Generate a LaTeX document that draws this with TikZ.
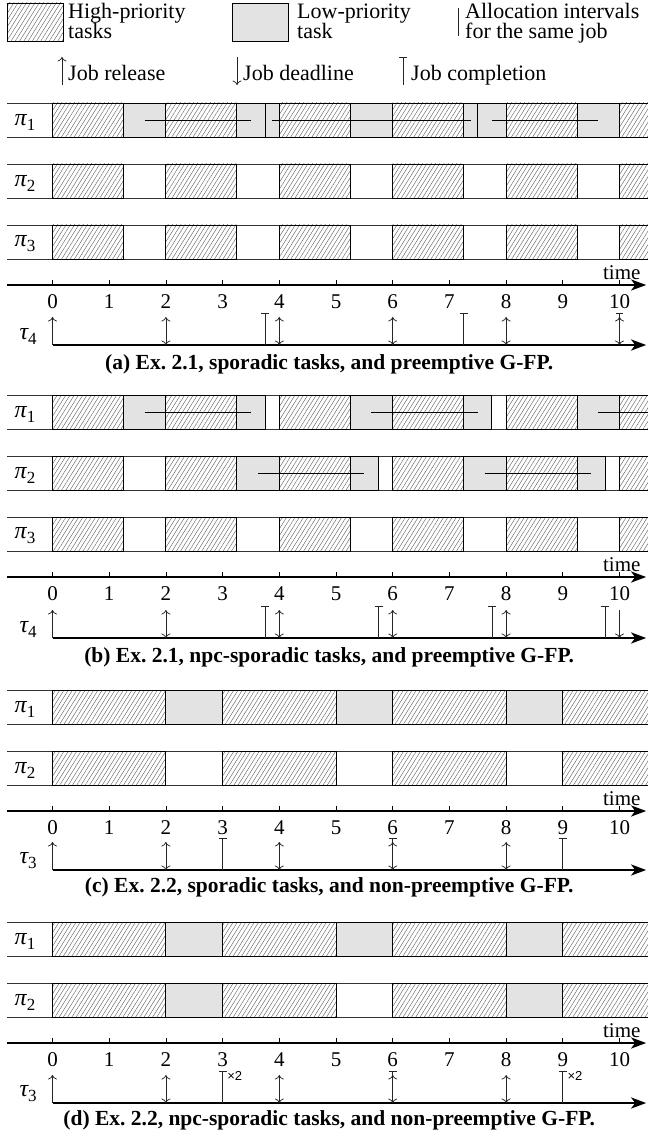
\documentclass[tikz,border=0pt]{standalone}
\usepackage{fontspec}
\setmainfont{Liberation Serif}
\newfontfamily\sansfam{Liberation Sans}
\usetikzlibrary{arrows.meta,patterns.meta}
\tikzset{
  hatchst/.style={pattern={Lines[angle=58,distance=3.6pt,line width=0.45pt]},pattern color=black!60},
  boxedge/.style={draw=black,line width=0.9pt},
  grayst/.style={fill=black!11},
  rowline/.style={draw=black!80,line width=0.8pt},
  jobln/.style={draw=black,line width=0.75pt},
  axisst/.style={line width=2.2pt,-{Stealth[length=15pt,width=11pt,inset=4pt]}},
  tickst/.style={line width=0.7pt},
  evt/.style={line width=0.75pt,draw=black!85},
  cmtip/.tip={Computer Modern Rightarrow[length=4.5pt,width=9pt]},
  relst/.style={evt,-{cmtip}},
  bothst/.style={evt,{cmtip}-{cmtip}},
  lbl/.style={inner sep=0pt,font=\fontsize{21}{22}\selectfont},
  lgd/.style={inner sep=0pt,anchor=base west,font=\fontsize{22}{23}\selectfont},
  capst/.style={inner sep=0pt,font=\fontsize{21.5}{22}\selectfont\bfseries},
  timesx/.style={inner sep=0pt,anchor=west,font=\sansfam\fontsize{13}{14}\selectfont},
}
\newcommand\symb[2]{{\fontsize{24}{24}\selectfont\itshape #1}\raisebox{-5pt}{\fontsize{17}{17}\selectfont #2}}
\newcommand\procrow[3]{%
  \draw[rowline] (-0.8,#1) -- (10.5,#1) (-0.8,{#1+34}) -- (10.5,{#1+34});
  \node[lbl] (#2) at (-0.485,{#1+19}) {#3};}
\newcommand\hatchrect[3]{\draw[hatchst,boxedge] (#2,#1) rectangle (#3,{#1+34});}
\newcommand\grayrect[3]{\draw[grayst,boxedge] (#2,#1) rectangle (#3,{#1+34});}
\newcommand\openrect[3]{\fill[hatchst] (#2,#1) rectangle (#3,{#1+34});
  \draw[boxedge] (#3,#1) -- (#2,#1) -- (#2,{#1+34}) -- (#3,{#1+34});}
\newcommand\jobseg[3]{\draw[jobln] (#2,{#1+17}) -- (#3,{#1+17});}
\newcommand\timeaxis[2]{%
  \draw[axisst] (-0.8,#1) -- (10.47,#1);
  \foreach \t in {0,...,10}{\draw[tickst] (\t,#1) -- (\t,{#1-5});
     \node[lbl] (#2n\t) at (\t,{#1+17}) {\t};}
  \node[lbl] (#2time) at (10.04,{#1-12}) {time};}
\newcommand\taxis[3]{%
  \draw[axisst] (0,#1) -- (10.47,#1);
  \node[lbl] (#2) at (-0.43,{#1-9}) {#3};}
\newcommand\relev[2]{\draw[relst] (#2,#1) -- (#2,{#1-28});}
\newcommand\bothev[2]{\draw[bothst] (#2,#1) -- (#2,{#1-28});}
\newcommand\dlev[2]{\draw[relst] (#2,{#1-28}) -- (#2,#1);}
\newcommand\complev[2]{\draw[evt] (#2,#1) -- (#2,{#1-32}) ({#2-0.07},{#1-32}) -- ({#2+0.07},{#1-32});}
\begin{document}
\begin{tikzpicture}[x=1pt,y=-1pt]
\useasboundingbox (0,0) rectangle (660,1139);
% ---------- legend ----------
\draw[hatchst,boxedge] (7,3) rectangle (63,41);
\node[lgd] (lgH) at (68,18.5) {High-priority};
\node[lgd] (lgH2) at (68,38.5) {tasks};
\draw[grayst,boxedge] (232,3) rectangle (288,41);
\node[lgd] (lgL) at (297,18.5) {Low-priority};
\node[lgd] (lgL2) at (297,38.5) {task};
\draw[evt] (458,8) -- (458,36);
\node[lgd] (lgA) at (465,18.5) {Allocation intervals};
\node[lgd] (lgA2) at (465,38.5) {for the same job};
\draw[relst] (62,85) -- (62,57);
\node[lgd] (lgR) at (68,81) {Job release};
\draw[relst] (237,57) -- (237,85);
\node[lgd] (lgD) at (243,81) {Job deadline};
\draw[evt] (403,85) -- (403,57) (399,57) -- (407,57);
\node[lgd] (lgC) at (411,81) {Job completion};
% ---------- timelines ----------
\begin{scope}[x=56.7pt,xshift=52.5pt]
% ===== (a) =====
\procrow{103}{p1a}{\symb{π}{1}}
\procrow{164}{p2a}{\symb{π}{2}}
\procrow{225}{p3a}{\symb{π}{3}}
\foreach \a/\b in {0/1.25,2/3.25,4/5.25,6/7.25,8/9.25}{\hatchrect{103}{\a}{\b}\hatchrect{164}{\a}{\b}\hatchrect{225}{\a}{\b}}
\openrect{103}{10}{10.5}\openrect{164}{10}{10.5}\openrect{225}{10}{10.5}
\foreach \a/\b in {1.25/2,3.25/3.75,3.75/4,5.25/6,7.25/7.5,7.5/8,9.25/10}{\grayrect{103}{\a}{\b}}
\jobseg{103}{1.625}{3.5}\jobseg{103}{3.875}{7.375}\jobseg{103}{7.75}{9.625}
\timeaxis{285}{ta}
\taxis{345}{tauA}{\symb{τ}{4}}
\relev{345}{0}
\foreach \t in {2,4,6,8,10}{\bothev{345}{\t}}
\foreach \t in {3.75,7.25,10}{\complev{345}{\t}}
\node[capst] (capa) at (4.88,364) {(a) Ex.\ 2.1, sporadic tasks, and preemptive G-FP.};
% ===== (b) =====
\procrow{395}{p1b}{\symb{π}{1}}
\procrow{456}{p2b}{\symb{π}{2}}
\procrow{517}{p3b}{\symb{π}{3}}
\foreach \a/\b in {0/1.25,2/3.25,4/5.25,6/7.25,8/9.25}{\hatchrect{395}{\a}{\b}\hatchrect{456}{\a}{\b}\hatchrect{517}{\a}{\b}}
\openrect{395}{10}{10.5}\openrect{456}{10}{10.5}\openrect{517}{10}{10.5}
\foreach \a/\b in {1.25/2,3.25/3.75,5.25/6,7.25/7.75,9.25/10}{\grayrect{395}{\a}{\b}}
\foreach \a/\b in {3.25/4,5.25/5.75,7.25/8,9.25/9.75}{\grayrect{456}{\a}{\b}}
\jobseg{395}{1.625}{3.5}\jobseg{395}{5.625}{7.5}\jobseg{395}{9.625}{10.5}
\jobseg{456}{3.625}{5.5}\jobseg{456}{7.625}{9.5}
\timeaxis{577}{tb}
\taxis{638}{tauB}{\symb{τ}{4}}
\relev{638}{0}
\foreach \t in {2,4,6,8}{\bothev{638}{\t}}
\dlev{638}{10}
\foreach \t in {3.75,5.75,7.75,9.75}{\complev{638}{\t}}
\node[capst] (capb) at (4.88,657) {(b) Ex.\ 2.1, npc-sporadic tasks, and preemptive G-FP.};
% ===== (c) =====
\procrow{690}{p1c}{\symb{π}{1}}
\procrow{751}{p2c}{\symb{π}{2}}
\foreach \a/\b in {0/2,3/5,6/8}{\hatchrect{690}{\a}{\b}\hatchrect{751}{\a}{\b}}
\openrect{690}{9}{10.5}\openrect{751}{9}{10.5}
\foreach \a/\b in {2/3,5/6,8/9}{\grayrect{690}{\a}{\b}}
\timeaxis{811}{tc}
\taxis{870}{tauC}{\symb{τ}{3}}
\relev{870}{0}
\foreach \t in {2,4,6,8}{\bothev{870}{\t}}
\foreach \t in {3,6,9}{\complev{870}{\t}}
\node[capst] (capc) at (4.88,887) {(c) Ex.\ 2.2, sporadic tasks, and non-preemptive G-FP.};
% ===== (d) =====
\procrow{922}{p1d}{\symb{π}{1}}
\procrow{983}{p2d}{\symb{π}{2}}
\foreach \a/\b in {0/2,3/5,6/8}{\hatchrect{922}{\a}{\b}\hatchrect{983}{\a}{\b}}
\openrect{922}{9}{10.5}\openrect{983}{9}{10.5}
\foreach \a/\b in {2/3,5/6,8/9}{\grayrect{922}{\a}{\b}}
\foreach \a/\b in {2/3,8/9}{\grayrect{983}{\a}{\b}}
\timeaxis{1043}{td}
\taxis{1103}{tauD}{\symb{τ}{3}}
\relev{1103}{0}
\foreach \t in {2,4,6,8}{\bothev{1103}{\t}}
\foreach \t in {3,6,9}{\complev{1103}{\t}}
\node[timesx] (xa) at (3.08,1076) {×2};
\node[timesx] (xb) at (9.08,1076) {×2};
\node[capst] (capd) at (4.88,1120) {(d) Ex.\ 2.2, npc-sporadic tasks, and non-preemptive G-FP.};
\end{scope}
\end{tikzpicture}
\end{document}
